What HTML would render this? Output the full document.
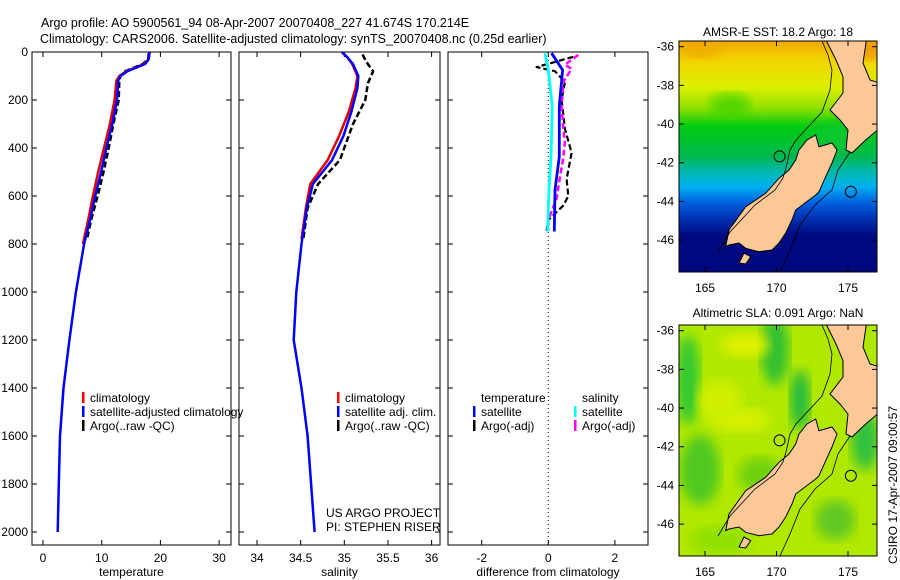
<!DOCTYPE html>
<html><head><meta charset="utf-8"><style>
html,body{margin:0;padding:0;background:#fff;}
svg{display:block;font-family:"Liberation Sans",sans-serif;}
text{fill:#000;}
</style></head><body>
<svg id="chart" width="900" height="580" viewBox="0 0 900 580">
<defs>
<linearGradient id="sstgrad" x1="0" y1="0" x2="0" y2="1">
<stop offset="0" stop-color="#f0a800"/>
<stop offset="0.08" stop-color="#f2d400"/>
<stop offset="0.2" stop-color="#dcf000"/>
<stop offset="0.29" stop-color="#90e000"/>
<stop offset="0.37" stop-color="#00cc10"/>
<stop offset="0.5" stop-color="#00b850"/>
<stop offset="0.57" stop-color="#00b8b0"/>
<stop offset="0.63" stop-color="#00b0f0"/>
<stop offset="0.7" stop-color="#0060e0"/>
<stop offset="0.77" stop-color="#0030b0"/>
<stop offset="0.84" stop-color="#000a80"/>
<stop offset="1" stop-color="#000880"/>
</linearGradient>
<clipPath id="clip1"><rect x="679" y="41" width="198" height="231"/></clipPath>
<clipPath id="clip2"><rect x="679" y="325" width="198" height="231"/></clipPath>
<filter id="blur"><feGaussianBlur stdDeviation="6"/></filter>
</defs>
<text x="41" y="27" font-size="12.5">Argo profile: AO 5900561_94 08-Apr-2007 20070408_227 41.674S 170.214E</text>
<text x="40" y="43" font-size="12.5">Climatology: CARS2006. Satellite-adjusted climatology: synTS_20070408.nc (0.25d earlier)</text>
<g id="g"></g>
</svg>
<script>
// ---- data ----
const tDepth = [0, 30, 50, 80, 100, 120, 200, 300, 400, 500, 600, 700, 800, 1000, 1200, 1400, 1600, 1800, 2000];
const tSat   = [18.1, 18.0, 17.4, 14.4, 13.2, 12.8, 12.6, 11.8, 10.8, 9.9, 8.9, 8.0, 7.0, 5.6, 4.5, 3.5, 2.9, 2.7, 2.5];
const tClimDepth = [0, 30, 50, 80, 100, 120, 200, 300, 400, 500, 600, 700, 800];
const tClim  = [18.2, 18.0, 17.2, 14.2, 13.0, 12.5, 12.2, 11.4, 10.4, 9.4, 8.5, 7.7, 6.8];
const tArgoDepth = [5, 30, 50, 80, 100, 120, 200, 300, 400, 500, 600, 700, 780];
const tArgo  = [18.0, 17.9, 17.0, 14.0, 13.2, 13.0, 12.9, 12.0, 11.2, 10.3, 9.3, 8.2, 7.5];

const sDepth = [0, 20, 50, 100, 150, 250, 350, 450, 550, 650, 800, 1000, 1200, 1400, 1600, 1800, 2000];
const sSat   = [34.97, 35.03, 35.10, 35.16, 35.15, 35.08, 34.99, 34.86, 34.64, 34.57, 34.51, 34.45, 34.42, 34.51, 34.58, 34.62, 34.66];
const sClimDepth = [0, 20, 50, 100, 150, 250, 350, 450, 550, 650, 780];
const sClim  = [34.97, 35.03, 35.09, 35.15, 35.13, 35.05, 34.94, 34.81, 34.61, 34.56, 34.51];
const sArgoDepth = [10, 40, 80, 130, 200, 300, 380, 450, 550, 650, 780];
const sArgo  = [35.21, 35.25, 35.33, 35.27, 35.24, 35.10, 35.02, 34.95, 34.70, 34.58, 34.53];

const dDepth = [5, 75, 228, 436, 575, 748];
const dTempSat = [0.10, 0.43, 0.33, 0.33, 0.20, 0.18];
const dSalSat  = [-0.10, 0.00, 0.12, 0.08, 0.02, -0.02];
const dArgoDepth = [20, 63, 80, 125, 200, 320, 420, 530, 600, 640, 700, 745];
const dTempArgo = [0.75, -0.35, 0.20, 0.50, 0.40, 0.50, 0.70, 0.55, 0.60, 0.45, 0.00, -0.05];
const dSalArgoDepth = [12, 53, 70, 125, 228, 320, 375, 440, 520, 610, 700, 745];
const dSalArgo = [0.90, 0.50, 0.70, 0.45, 0.40, 0.45, 0.50, 0.45, 0.35, 0.25, 0.00, 0.00];

const depthTicks = [0, 200, 400, 600, 800, 1000, 1200, 1400, 1600, 1800, 2000];
const tTicks = [0, 10, 20, 30];
const sTicks = [34, 34.5, 35, 35.5, 36];
const sTickLabels = ["34", "34.5", "35", "35.5", "36"];
const dTicks = [-2, 0, 2];
const lonTicks = [165, 170, 175];
const latTicks = [-36, -38, -40, -42, -44, -46];

// ---- helpers ----
const NS = "http://www.w3.org/2000/svg";
const G = document.getElementById('g');
function mk(tag, attrs, parent) {
  const e = document.createElementNS(NS, tag);
  for (const k in attrs) e.setAttribute(k, attrs[k]);
  (parent || G).appendChild(e);
  return e;
}
const yD = d => 52 + d * 0.24;
const xT = v => 43 + v * 5.87;
const xS = v => 257 + (v - 34) * 87.3;
const xDf = v => 548.3 + v * 33.3;

function panel(name, x0, x1, ticks, labels, sx, xlabel, showDepth) {
  const r = mk('rect', {x: x0, y: 52, width: x1 - x0, height: 493, fill: 'none', stroke: '#000', 'stroke-width': 1});
  
  
  ticks.forEach((v, i) => {
    const x = sx(v);
    mk('line', {x1: x, x2: x, y1: 545, y2: 540, stroke: '#000'});
    mk('line', {x1: x, x2: x, y1: 52, y2: 57, stroke: '#000'});
    const t = mk('text', {x: x, y: 562, 'font-size': 12, 'text-anchor': 'middle'});
    t.textContent = labels[i];
    
    
  });
  depthTicks.forEach(d => {
    const y = yD(d);
    mk('line', {x1: x0, x2: x0 + 5, y1: y, y2: y, stroke: '#000'});
    mk('line', {x1: x1, x2: x1 - 5, y1: y, y2: y, stroke: '#000'});
    if (showDepth) {
      const t = mk('text', {x: 28, y: y + 4, 'font-size': 12, 'text-anchor': 'end'});
      t.textContent = d;
      
      
    }
  });
  const xl = mk('text', {x: (x0 + x1) / 2, y: 576, 'font-size': 12, 'text-anchor': 'middle'});
  xl.textContent = xlabel;
  
  
}
function line(name, depths, vals, sx, color, w, dash) {
  const pts = depths.map((d, i) => sx(vals[i]).toFixed(1) + ',' + yD(d).toFixed(1)).join(' ');
  const a = {points: pts, fill: 'none', stroke: color, 'stroke-width': w, 'stroke-linejoin': 'round'};
  if (dash) a['stroke-dasharray'] = dash;
  const p = mk('polyline', a);
  
  
}
function legend(name, x, y, color, label) {
  const m = mk('rect', {x: x, y: y - 10, width: 2.5, height: 11, fill: color});
  
  
  const t = mk('text', {x: x + 8, y: y, 'font-size': 12});
  t.textContent = label;
  
  
}

// ---- panel 1: temperature ----
panel('temperature-panel', 32, 231, tTicks, tTicks.map(String), xT, 'temperature', true);
line('temperature-argo-line', tArgoDepth, tArgo, xT, '#000', 2.5, '6,3');
line('temperature-climatology-line', tClimDepth, tClim, xT, '#e00000', 2.5);
line('temperature-satellite-line', tDepth, tSat, xT, '#0000ff', 2.5);
legend('legend-climatology-temp', 82, 402, '#ff0000', 'climatology');
legend('legend-satellite-temp', 82, 416, '#0000ff', 'satellite-adjusted climatology');
legend('legend-argo-temp', 82, 430, '#000', 'Argo(..raw -QC)');

// ---- panel 2: salinity ----
panel('salinity-panel', 239, 440, sTicks, sTickLabels, xS, 'salinity', false);
line('salinity-argo-line', sArgoDepth, sArgo, xS, '#000', 2.5, '6,3');
line('salinity-climatology-line', sClimDepth, sClim, xS, '#e00000', 2.5);
line('salinity-satellite-line', sDepth, sSat, xS, '#0000ff', 2.5);
legend('legend-climatology-sal', 337, 402, '#ff0000', 'climatology');
legend('legend-satellite-sal', 337, 416, '#0000ff', 'satellite adj. clim.');
legend('legend-argo-sal', 337, 430, '#000', 'Argo(..raw -QC)');
const us = mk('text', {x: 326, y: 517, 'font-size': 12}); us.textContent = 'US ARGO PROJECT';
 
const pi = mk('text', {x: 326, y: 531, 'font-size': 12}); pi.textContent = 'PI: STEPHEN RISER';
 

// ---- panel 3: differences ----
panel('difference-panel', 448, 648, dTicks, dTicks.map(String), xDf, 'difference from climatology', false);
const zl = mk('line', {x1: xDf(0), x2: xDf(0), y1: 52, y2: 545, stroke: '#000', 'stroke-dasharray': '1,3'});
 
line('diff-temp-argo-line', dArgoDepth, dTempArgo, xDf, '#000', 2.2, '6,3');
line('diff-sal-argo-line', dSalArgoDepth, dSalArgo, xDf, '#ff00ff', 2.5, '6,3');
line('diff-sal-satellite-line', dDepth, dSalSat, xDf, '#00ffff', 2.8);
line('diff-temp-satellite-line', dDepth, dTempSat, xDf, '#0000ff', 2.8);
const tl = mk('text', {x: 481, y: 402, 'font-size': 12}); tl.textContent = 'temperature';
 
const sl = mk('text', {x: 582, y: 402, 'font-size': 12}); sl.textContent = 'salinity';
 
legend('legend-diff-temp-satellite', 473, 416, '#0000ff', 'satellite');
legend('legend-diff-temp-argo', 473, 430, '#000', 'Argo(-adj)');
legend('legend-diff-sal-satellite', 574, 416, '#00ffff', 'satellite');
legend('legend-diff-sal-argo', 574, 430, '#ff00ff', 'Argo(-adj)');

// ---- maps (outline vertices in lon/lat) ----
const toLon = x => 165 + (x - 705) / 14.3;
const toLat = y => -36 - (y - 46.7) / 19.34;
const southIsland = [[725.7,246.7],[729,230],[745.7,206.7],[765.7,193.3],[779,178.3],[789,170],[795.7,160],[799,150],[807,140],[815.7,135],[819,146.7],[832,143],[837,150],[832,163],[825.7,176.7],[819,191.7],[815.7,195],[809,200],[795.7,210],[792,220],[785.7,233],[779,243],[772,250],[759,251.7],[745.7,248.3],[739,243],[729,245]].map(p => [toLon(p[0]), toLat(p[1])]);
const northIsland = [[825,38],[836,60],[843,76.7],[843,93],[830,110],[840,120],[848,130],[846,150],[852,153],[865.7,140],[880,128],[880,83],[870,80],[863,63],[866.7,38]].map(p => [toLon(p[0]), toLat(p[1])]);
const stewart = [[739,263],[744,253],[750.7,256.7],[745.7,264]].map(p => [toLon(p[0]), toLat(p[1])]);

function drawMap(name, top, clip, bg) {
  const xL = lon => 705 + (lon - 165) * 14.3;
  const yL = lat => top + 5.7 + (-36 - lat) * 19.34;
  const g = mk('g', {'clip-path': 'url(#' + clip + ')'});
  
  
  bg(g, xL, yL);
  [southIsland, northIsland, stewart].forEach((poly, i) => {
    const p = mk('polygon', {points: poly.map(q => xL(q[0]).toFixed(1) + ',' + yL(q[1]).toFixed(1)).join(' '), fill: '#fcc896', stroke: '#000', 'stroke-width': 1}, g);
    
    
  });
  const c = mk('polyline', {points: [[718,252],[730,232],[755,205],[775,190],[783,178],[786,168],[790,150],[796,140],[810,125],[822,112],[830,90],[832,70],[828,55],[822,41]].map(q => q[0] + ',' + (q[1] - 41 + top)).join(' '), fill: 'none', stroke: '#000', 'stroke-width': 0.8}, g);
   
  const c2 = mk('polyline', {points: [[780,272],[790,250],[800,225],[815,205],[832,190],[838,170],[850,152]].map(q => q[0] + ',' + (q[1] - 41 + top)).join(' '), fill: 'none', stroke: '#000', 'stroke-width': 0.8}, g);
   
  [[170.214,-41.674],[175.2,-43.5]].forEach(q => {
    const ci = mk('circle', {cx: xL(q[0]), cy: yL(q[1]), r: 5.5, fill: 'none', stroke: '#000', 'stroke-width': 1}, g);
     
  });
  const box = mk('rect', {x: 679, y: top, width: 198, height: 231, fill: 'none', stroke: '#000'});
   
  lonTicks.forEach(v => {
    const x = xL(v);
    mk('line', {x1: x, x2: x, y1: top + 231, y2: top + 226, stroke: '#000'});
    mk('line', {x1: x, x2: x, y1: top, y2: top + 5, stroke: '#000'});
    const t = mk('text', {x: x, y: top + 251, 'font-size': 12, 'text-anchor': 'middle'});
    t.textContent = v;
     
  });
  latTicks.forEach(v => {
    const y = yL(v);
    mk('line', {x1: 679, x2: 684, y1: y, y2: y, stroke: '#000'});
    mk('line', {x1: 877, x2: 872, y1: y, y2: y, stroke: '#000'});
    const t = mk('text', {x: 674, y: y + 4, 'font-size': 12, 'text-anchor': 'end'});
    t.textContent = v;
     
  });
}
drawMap('sst-map', 41, 'clip1', (g) => {
  mk('rect', {x: 679, y: 41, width: 198, height: 231, fill: 'url(#sstgrad)'}, g);
  mk('ellipse', {cx: 730, cy: 105, rx: 20, ry: 12, fill: '#30d000', opacity: 0.7, filter: 'url(#blur)'}, g);
  mk('ellipse', {cx: 700, cy: 50, rx: 20, ry: 8, fill: '#f0a000', opacity: 0.7, filter: 'url(#blur)'}, g);
  mk('ellipse', {cx: 870, cy: 50, rx: 15, ry: 10, fill: '#f09000', opacity: 0.8, filter: 'url(#blur)'}, g);
  mk('ellipse', {cx: 840, cy: 135, rx: 25, ry: 14, fill: '#10c830', opacity: 0.8, filter: 'url(#blur)'}, g);
});
drawMap('sla-map', 325, 'clip2', (g) => {
  mk('rect', {x: 679, y: 325, width: 198, height: 231, fill: '#b0e800'}, g);
  const blobs = [[688,380,12,45,'#30c830'],[775,350,14,35,'#30c030'],[800,400,10,30,'#20b840'],[740,420,30,12,'#d8f000'],[720,400,22,20,'#d0f000'],[700,470,20,35,'#50c820'],[760,475,22,18,'#70d010'],[865,440,14,30,'#30c040'],[835,520,20,20,'#60c820'],[720,540,30,14,'#90e000'],[745,345,24,12,'#e0f000']];
  blobs.forEach(b => mk('ellipse', {cx: b[0], cy: b[1], rx: b[2], ry: b[3], fill: b[4], filter: 'url(#blur)'}, g));
});
const m1 = mk('text', {x: 778, y: 36, 'font-size': 12, 'text-anchor': 'middle'}); m1.textContent = 'AMSR-E SST: 18.2 Argo: 18';
 
const m2 = mk('text', {x: 778, y: 317, 'font-size': 12, 'text-anchor': 'middle'}); m2.textContent = 'Altimetric SLA: 0.091 Argo: NaN';
 
const cs = mk('text', {x: 0, y: 0, 'font-size': 12, transform: 'translate(897,564) rotate(-90)'}); cs.textContent = 'CSIRO 17-Apr-2007 09:00:57';
 
</script>
</body></html>
